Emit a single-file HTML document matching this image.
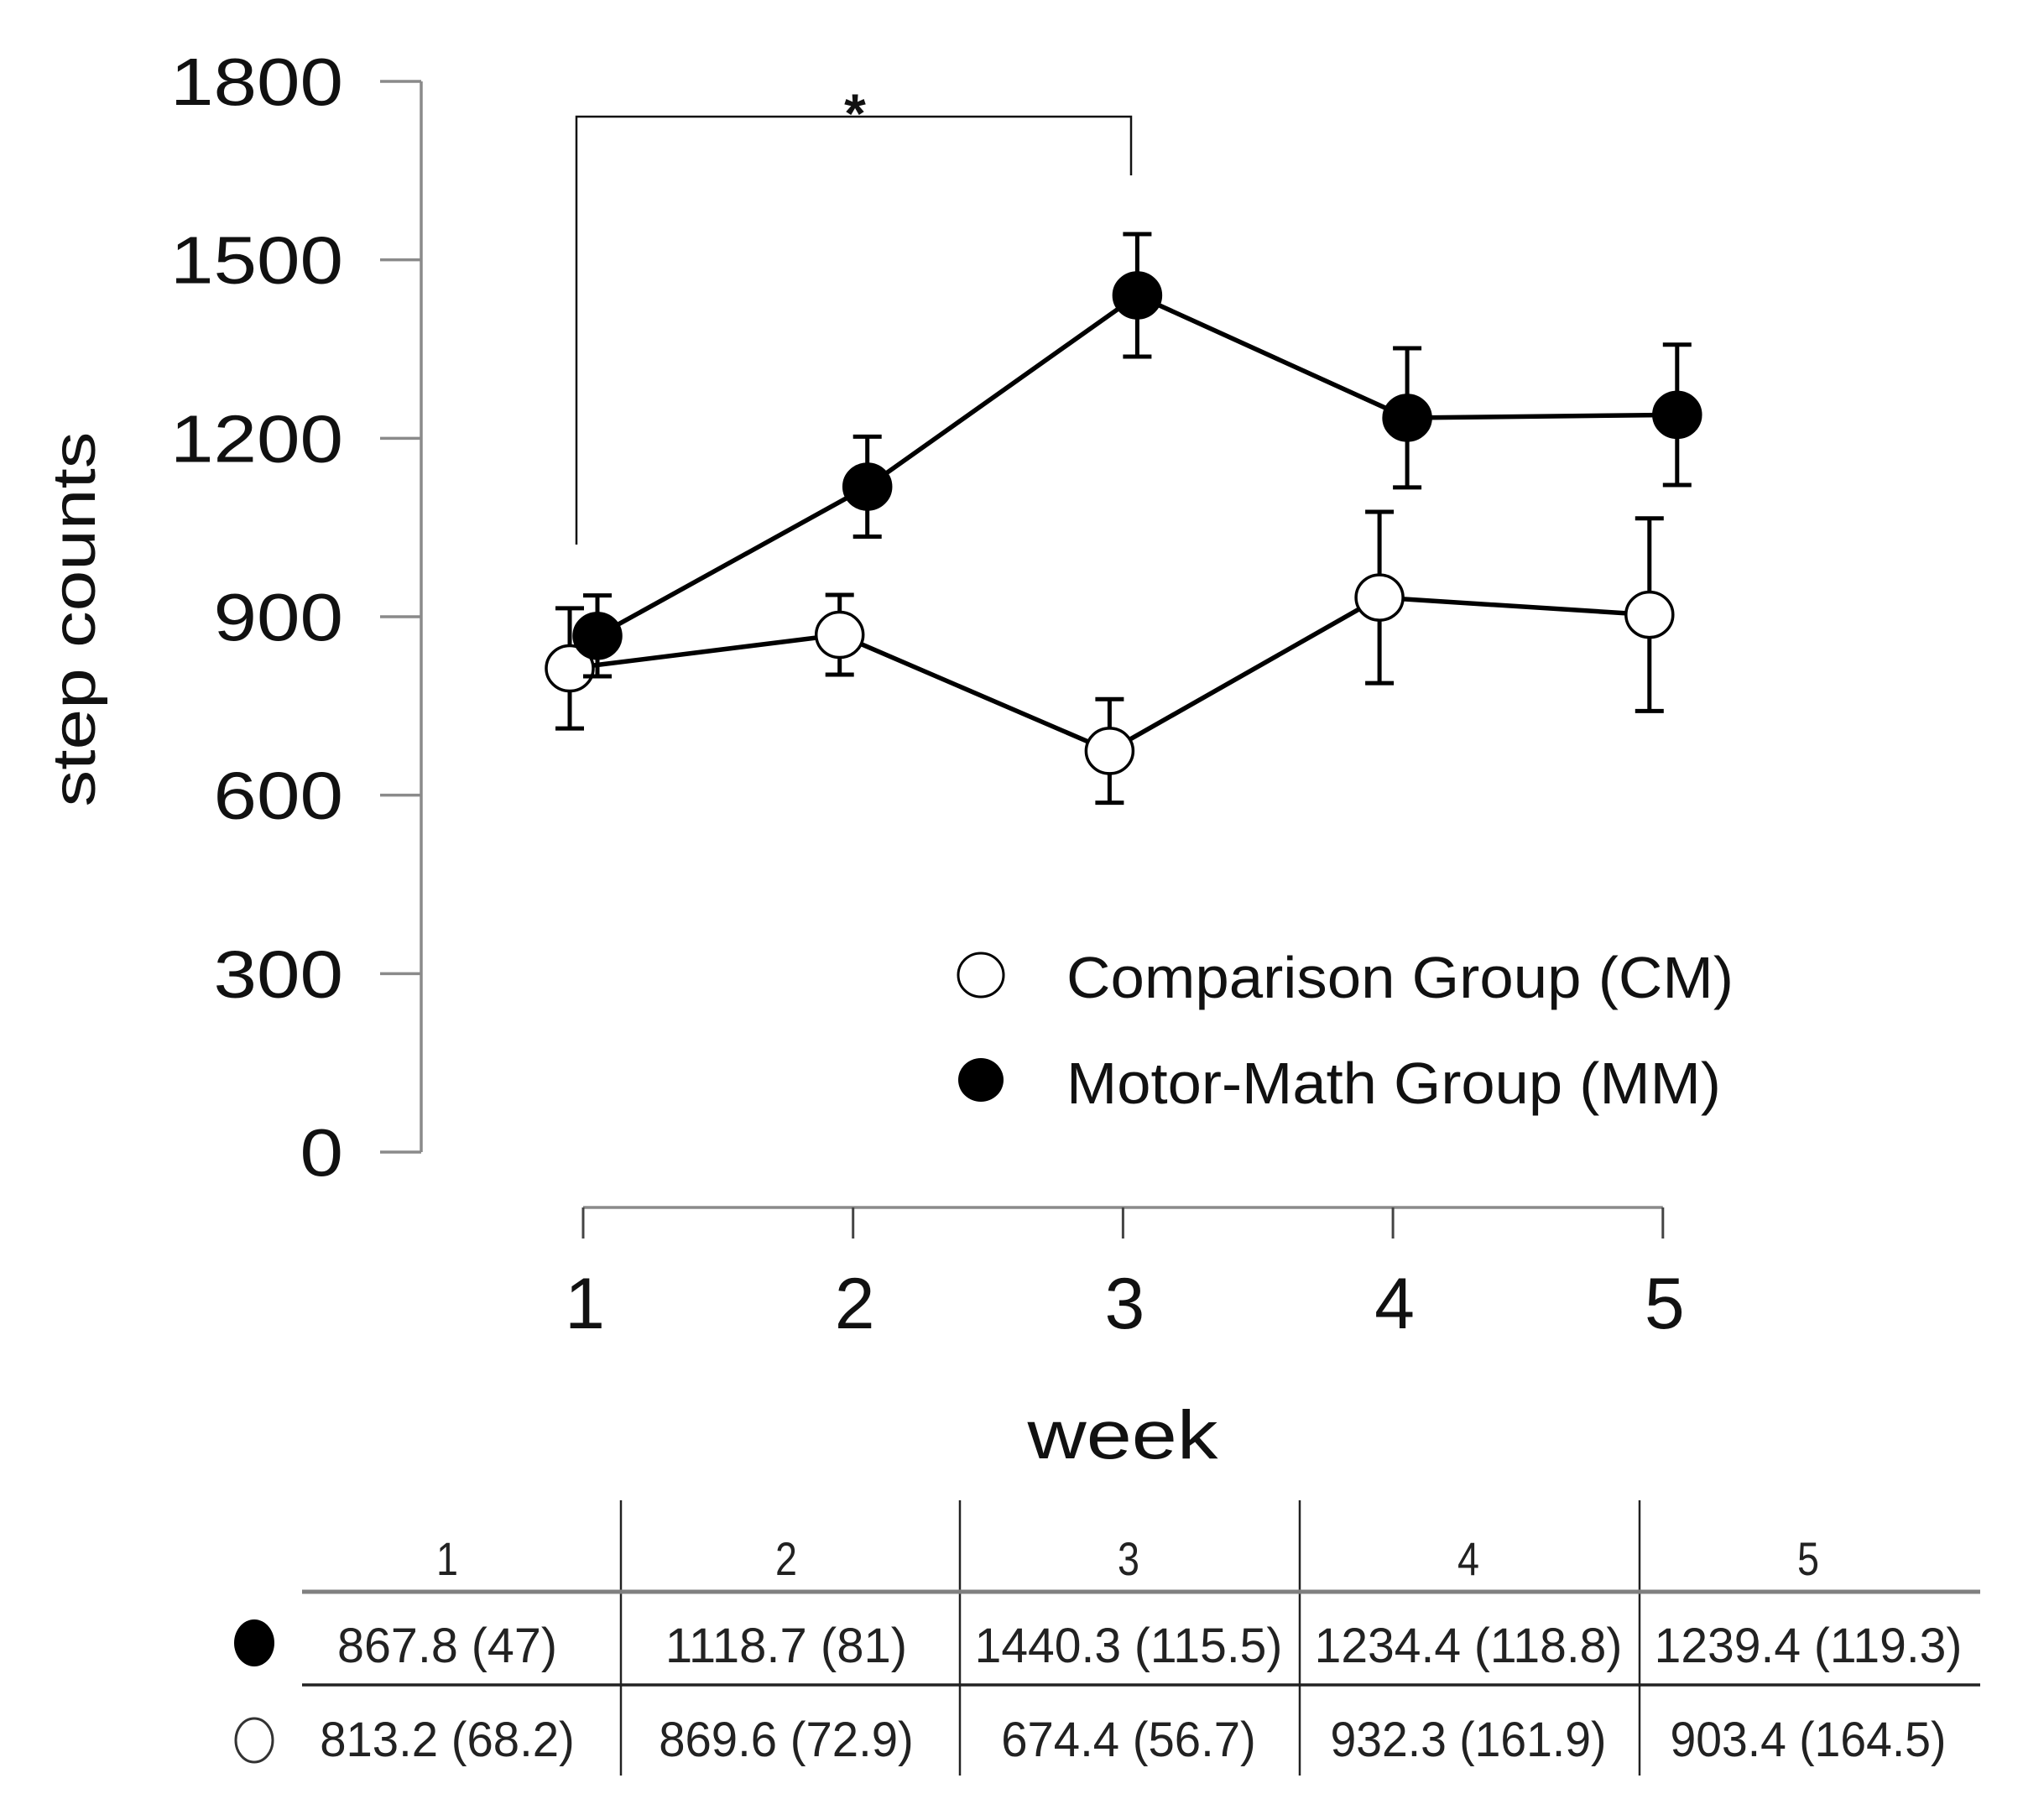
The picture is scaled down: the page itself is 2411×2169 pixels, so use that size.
<!DOCTYPE html>
<html><head><meta charset="utf-8"><style>
html,body{margin:0;padding:0;background:#fff;}
svg{display:block;font-family:"Liberation Sans",sans-serif;}
</style></head><body>
<svg id="chart" width="2411" height="2169" viewBox="0 0 2411 2169" xmlns="http://www.w3.org/2000/svg">
<g id="axes"></g>
<g id="marks"></g>
<g id="legend"></g>
<g id="table"></g>
</svg>
<script>
const weeks = [1, 2, 3, 4, 5];
const yTicks = [0, 300, 600, 900, 1200, 1500, 1800];
const mmMeans = [867.8, 1118.7, 1440.3, 1234.4, 1239.4];
const mmErr = [68, 84, 103, 117, 118];
const cmMeans = [813.2, 869.6, 674.4, 932.3, 903.4];
const cmErr = [101, 67, 87, 144, 162];
const mmTable = ["867.8 (47)", "1118.7 (81)", "1440.3 (115.5)", "1234.4 (118.8)", "1239.4 (119.3)"];
const cmTable = ["813.2 (68.2)", "869.6 (72.9)", "674.4 (56.7)", "932.3 (161.9)", "903.4 (164.5)"];

const NS = "http://www.w3.org/2000/svg";
function mk(parent, tag, attrs, text) {
  const e = document.createElementNS(NS, tag);
  for (const k in attrs) e.setAttribute(k, attrs[k]);
  if (text !== undefined) e.textContent = text;
  parent.appendChild(e);
  return e;
}
const yScale = v => 1373 - (v / 1800) * (1373 - 97);
const xScale = w => 695 + (w - 1) * 321.7;

const axes = document.getElementById('axes');
let el = mk(axes, 'line', {x1: 502, y1: yScale(1800), x2: 502, y2: yScale(0), stroke: '#8a8a8a', 'stroke-width': 3.5});


yTicks.forEach(t => {
  const y = yScale(t);
  let tk = mk(axes, 'line', {x1: 453, y1: y, x2: 502, y2: y, stroke: '#8a8a8a', 'stroke-width': 3.5});
  
  
  const s = String(t);
  let lb = mk(axes, 'text', {x: 409, y: y + 28, 'font-size': 80, 'text-anchor': 'end', fill: '#111', textLength: s.length * 51.5, lengthAdjust: 'spacingAndGlyphs'}, s);
  
  
});
el = mk(axes, 'text', {x: 0, y: 0, 'font-size': 72, 'text-anchor': 'middle', fill: '#111', transform: 'translate(113,738) rotate(-90)', textLength: 447, lengthAdjust: 'spacingAndGlyphs'}, 'step counts');


el = mk(axes, 'line', {x1: xScale(1), y1: 1439, x2: xScale(5), y2: 1439, stroke: '#8a8a8a', 'stroke-width': 3.5});


weeks.forEach(w => {
  const x = xScale(w);
  let tk = mk(axes, 'line', {x1: x, y1: 1439, x2: x, y2: 1476, stroke: '#444', 'stroke-width': 3});
  
  
  let lb = mk(axes, 'text', {x: x + 2, y: 1583, 'font-size': 86, 'text-anchor': 'middle', fill: '#111'}, String(w));
  
  
});
el = mk(axes, 'text', {x: 1338, y: 1738, 'font-size': 82, 'text-anchor': 'middle', fill: '#111', textLength: 227, lengthAdjust: 'spacingAndGlyphs'}, 'week');



el = mk(axes, 'polyline', {points: '687,649 687,139 1348,139 1348,209', fill: 'none', stroke: '#111', 'stroke-width': 2.5});


el = mk(axes, 'text', {x: 1019, y: 158, 'font-size': 66, 'text-anchor': 'middle', fill: '#111', 'font-weight': 'bold'}, '*');



const marks = document.getElementById('marks');
function series(means, errs, off, filled, name) {
  const pts = means.map((m, i) => [xScale(weeks[i]) + off, yScale(m)]);
  let l = mk(marks, 'polyline', {points: pts.map(p => p.join(',')).join(' '), fill: 'none', stroke: '#000', 'stroke-width': 5.5});
  
  
  means.forEach((m, i) => {
    const x = pts[i][0];
    const yt = yScale(m + errs[i]), yb = yScale(m - errs[i]);
    let eb = mk(marks, 'path', {d: `M${x},${yt}V${yb}M${x-17},${yt}H${x+17}M${x-17},${yb}H${x+17}`, stroke: '#000', 'stroke-width': 5, fill: 'none'});
    
    
  });
  means.forEach((m, i) => {
    let c = mk(marks, 'ellipse', {cx: pts[i][0], cy: pts[i][1], rx: 28, ry: 27, fill: filled ? '#000' : '#fff', stroke: '#000', 'stroke-width': 3.5});
    
    
  });
}
series(cmMeans, cmErr, -16, false, 'cm');
series(mmMeans, mmErr, 17, true, 'mm');

const lg = document.getElementById('legend');
el = mk(lg, 'ellipse', {cx: 1169, cy: 1162, rx: 27, ry: 26, fill: '#fff', stroke: '#000', 'stroke-width': 3});


el = mk(lg, 'text', {x: 1271, y: 1189, 'font-size': 70, fill: '#111', textLength: 795, lengthAdjust: 'spacingAndGlyphs'}, 'Comparison Group (CM)');


el = mk(lg, 'ellipse', {cx: 1169, cy: 1287, rx: 27, ry: 26, fill: '#000'});


el = mk(lg, 'text', {x: 1271, y: 1315, 'font-size': 70, fill: '#111', textLength: 780, lengthAdjust: 'spacingAndGlyphs'}, 'Motor-Math Group (MM)');



const tb = document.getElementById('table');
[740, 1144, 1549, 1954].forEach(x => {
  let v = mk(tb, 'line', {x1: x, y1: 1788, x2: x, y2: 2116, stroke: '#222', 'stroke-width': 2.5});
  
  
});
el = mk(tb, 'line', {x1: 360, y1: 1897, x2: 2360, y2: 1897, stroke: '#808080', 'stroke-width': 5});


el = mk(tb, 'line', {x1: 360, y1: 2008, x2: 2360, y2: 2008, stroke: '#222', 'stroke-width': 3.5});


const colX = [533, 937, 1345, 1750, 2155];
weeks.forEach((w, i) => {
  let h = mk(tb, 'text', {x: colX[i], y: 1877, 'font-size': 56, 'text-anchor': 'middle', fill: '#222', textLength: 26, lengthAdjust: 'spacingAndGlyphs'}, String(w));
  
  
  let a = mk(tb, 'text', {x: colX[i], y: 1981, 'font-size': 58, 'text-anchor': 'middle', fill: '#222', textLength: mmTable[i].length * 26.2, lengthAdjust: 'spacingAndGlyphs'}, mmTable[i]);
  
  
  let b = mk(tb, 'text', {x: colX[i], y: 2093, 'font-size': 58, 'text-anchor': 'middle', fill: '#222', textLength: cmTable[i].length * 25.3, lengthAdjust: 'spacingAndGlyphs'}, cmTable[i]);
  
  
});
el = mk(tb, 'ellipse', {cx: 303, cy: 1958, rx: 24, ry: 28, fill: '#000'});


el = mk(tb, 'ellipse', {cx: 303, cy: 2074, rx: 22, ry: 26, fill: '#fff', stroke: '#333', 'stroke-width': 3});


</script>
</body></html>
